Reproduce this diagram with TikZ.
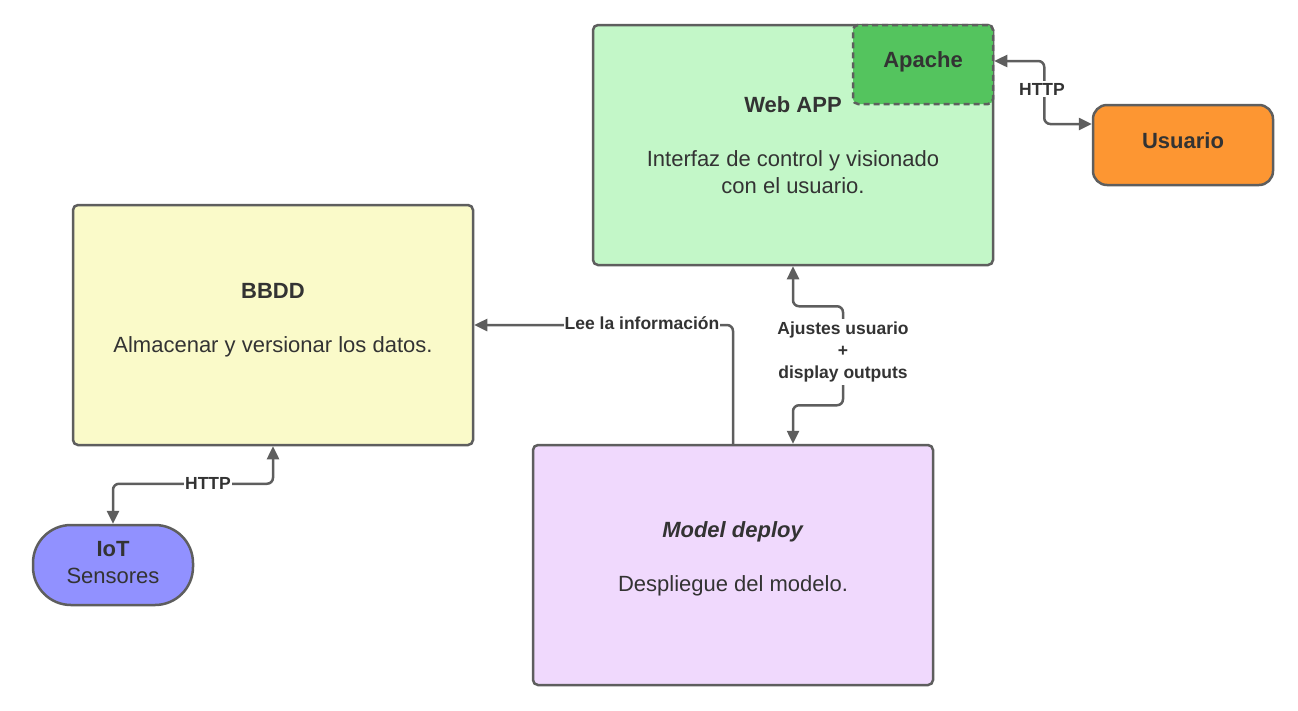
\documentclass[tikz,border=0pt]{standalone}
\usepackage{fontspec}
\setmainfont{Liberation Sans}
\usetikzlibrary{arrows.meta}
\definecolor{edgec}{HTML}{5E5E5E}
\definecolor{txt}{HTML}{333333}
\definecolor{webfill}{HTML}{C3F7C8}
\definecolor{apachefill}{HTML}{54C45E}
\definecolor{userfill}{HTML}{FD9632}
\definecolor{dbfill}{HTML}{FAFAC9}
\definecolor{modelfill}{HTML}{F0D9FD}
\definecolor{iotfill}{HTML}{9191FF}
\tikzset{
  box/.style={draw=edgec, line width=2.5pt, rounded corners=5pt, inner sep=0pt},
  body/.style={text=txt, align=center, font=\fontsize{22}{27}\selectfont},
  lab/.style={text=txt, fill=white, inner sep=1pt, align=center, font=\bfseries\fontsize{17.5}{22}\selectfont},
  conn/.style={draw=edgec, line width=2.5pt, rounded corners=6pt},
  tip/.tip={Triangle[length=13pt,width=12pt]}
}
\begin{document}
\begin{tikzpicture}[x=1pt,y=-1pt]
\useasboundingbox (0,0) rectangle (1298,710);
% boxes
\node[box, fill=webfill, minimum width=400pt, minimum height=240pt] (web) at (793,145) {};
\node[box, fill=apachefill, dash pattern=on 6pt off 4pt, minimum width=140pt, minimum height=79pt] (apache) at (923,64.5) {};
\node[body, font=\bfseries\fontsize{22}{27}\selectfont] (apachet) at (923,62) {Apache};
\node[body] (webt) at (793,145) {\textbf{Web APP}\\[27pt]Interfaz de control y visionado\\con el usuario.};
\node[box, fill=userfill, rounded corners=14pt, minimum width=180pt, minimum height=80pt] (user) at (1183,145) {};
\node[body, font=\bfseries\fontsize{22}{27}\selectfont] (usert) at (1183,141) {Usuario};
\node[box, fill=dbfill, minimum width=400pt, minimum height=240pt] (db) at (273,325) {};
\node[body] (dbt) at (273,320) {\textbf{BBDD}\\[27pt]Almacenar y versionar los datos.};
\node[box, fill=modelfill, minimum width=400pt, minimum height=240pt] (model) at (733,565) {};
\node[body] (modelt) at (733,559) {\textbf{\itshape Model deploy}\\[27pt]Despliegue del modelo.};
\node[box, fill=iotfill, rounded corners=38pt, minimum width=160pt, minimum height=80pt] (iot) at (113,565) {};
\node[body] (iott) at (113,563) {\textbf{IoT}\\Sensores};
% connectors
\draw[conn, {tip}-{tip}] ([yshift=3.5pt]apache.east) -- ++(50,0) |- ([yshift=21pt]user.west);
\node[lab, inner sep=2pt] (http1) at (1042,89) {HTTP};
\draw[conn, -{tip}] (model.north) |- (db.east);
\node[lab] (lee) at (642,323) {Lee la información};
\draw[conn, {tip}-{tip}] (web.south) -- ++(0,40) -- ++(50,0) -- ++(0,99) -- ++(-50,0) -- ([xshift=60pt]model.north);
\node[lab, inner sep=3pt] (aj) at (843,352) {Ajustes usuario\\+\\display outputs};
\draw[conn, {tip}-{tip}] (iot.north) -- ++(0,-40) -| (db.south);
\node[lab] (http2) at (208,483) {HTTP};
\end{tikzpicture}
\end{document}
